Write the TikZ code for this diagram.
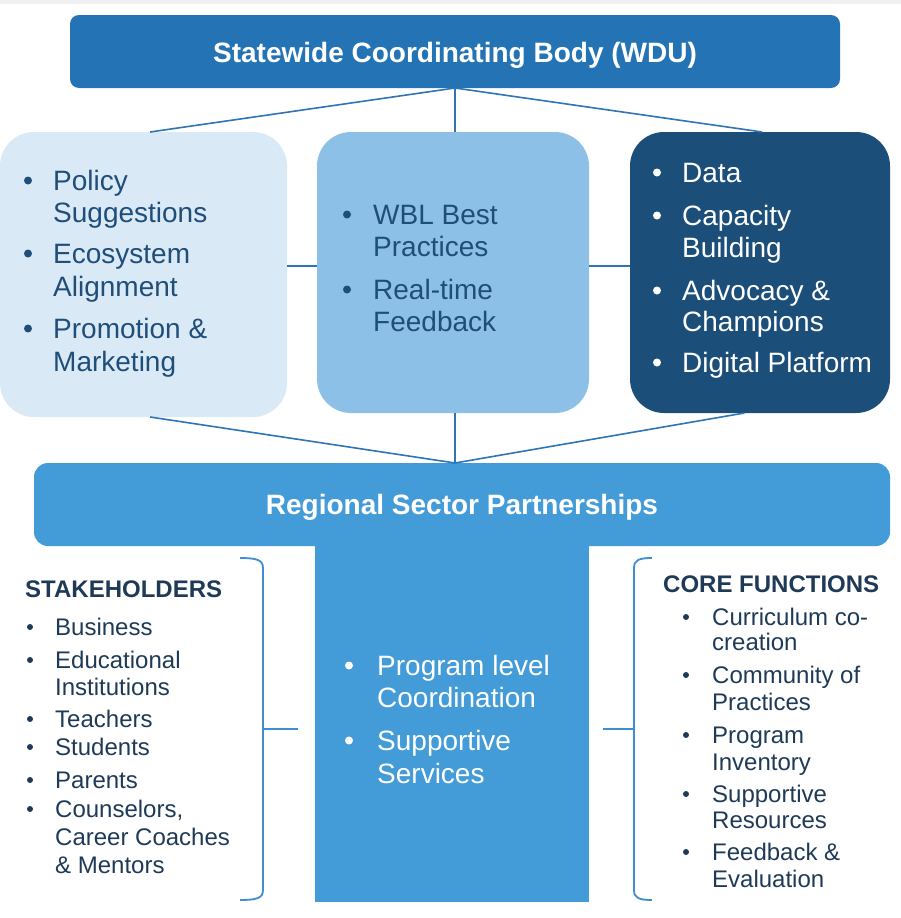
\documentclass[tikz,border=0pt]{standalone}
\usepackage{fontspec}
\setmainfont{Liberation Sans}
\usetikzlibrary{calc}
\definecolor{topblue}{HTML}{2474B5}
\definecolor{lightbox}{HTML}{DAE9F6}
\definecolor{midbox}{HTML}{8DC0E6}
\definecolor{darkbox}{HTML}{1C4E7A}
\definecolor{regblue}{HTML}{439BD7}
\definecolor{txtdark}{HTML}{1F4E79}
\definecolor{txtnavy}{HTML}{1F3A57}
\definecolor{linkblue}{HTML}{2E75B6}
\definecolor{bracketblue}{HTML}{3E8ED0}
\begin{document}
\begin{tikzpicture}[x=1pt,y=-1pt,
  box/.style={rectangle, inner sep=0pt, outer sep=0pt, draw=none},
  bigtxt/.style={font=\fontsize{28}{33}\selectfont, inner sep=0pt, anchor=base west},
  smalltxt/.style={font=\fontsize{24}{28}\selectfont, inner sep=0pt, anchor=base west},
  headtxt/.style={font=\bfseries\fontsize{24}{28}\selectfont, inner sep=0pt, anchor=base west, text=txtnavy},
  titletxt/.style={font=\bfseries\fontsize{28}{33}\selectfont, inner sep=0pt, anchor=base, text=white},
  bigdot/.style={circle, fill, inner sep=0pt, minimum size=8pt},
  smalldot/.style={circle, fill, inner sep=0pt, minimum size=6pt},
  link/.style={draw=linkblue, line width=1.6pt},
  brace/.style={draw=bracketblue, line width=1.8pt}
]
\useasboundingbox (0,0) rectangle (901,918);
\fill[gray!12] (0,0) rectangle (901,4);

% top box
\node[box, fill=topblue, rounded corners=9pt, minimum width=770pt, minimum height=73pt] (wdu) at (455,51.5) {};
\node[titletxt] (wdut) at (455,62) {Statewide Coordinating Body (WDU)};

% three middle boxes
\node[box, fill=lightbox, rounded corners=34pt, minimum width=287pt, minimum height=285pt] (lb) at (143.5,274.5) {};
\node[box, fill=midbox, rounded corners=34pt, minimum width=272pt, minimum height=281pt] (cb) at (453,272.5) {};
\node[box, fill=darkbox, rounded corners=34pt, minimum width=260pt, minimum height=281pt] (rb) at (760,272.5) {};

% regional box and stem
\node[box, fill=regblue, minimum width=274pt, minimum height=366pt] (stem) at (452,719) {};
\node[box, fill=regblue, rounded corners=14pt, minimum width=856pt, minimum height=83pt] (rg) at (462,504.5) {};
\node[titletxt] (rgt) at (462,514) {Regional Sector Partnerships};

% left box list
\foreach \yy/\txt [count=\i] in {190/Policy,222/Suggestions,263/Ecosystem,296/Alignment,338/Promotion \&,371/Marketing}
  \node[bigtxt, text=txtdark] (pl\i) at (53,\yy) {\txt};
\foreach \yy [count=\i] in {190,263,338}
  \node[bigdot, fill=txtdark] (pd\i) at (28,\yy-9.5) {};

% center box list
\foreach \yy/\txt [count=\i] in {224/WBL Best,256/Practices,299/Real-time,331/Feedback}
  \node[bigtxt, text=txtdark] (cl\i) at (373,\yy) {\txt};
\foreach \yy [count=\i] in {224,299}
  \node[bigdot, fill=txtdark] (cd\i) at (347,\yy-9.5) {};

% right box list
\foreach \yy/\txt [count=\i] in {182/Data,225/Capacity,257/Building,300/Advocacy \&,331/Champions,372/Digital Platform}
  \node[bigtxt, text=white] (rl\i) at (682,\yy) {\txt};
\foreach \yy [count=\i] in {182,225,300,372}
  \node[bigdot, fill=white] (rd\i) at (657,\yy-9.5) {};

% stem list
\foreach \yy/\txt [count=\i] in {675/Program level,707/Coordination,750/Supportive,783/Services}
  \node[bigtxt, text=white] (sl\i) at (377,\yy) {\txt};
\foreach \yy [count=\i] in {675,750}
  \node[bigdot, fill=white] (sd\i) at (349,\yy-9.5) {};

% stakeholders
\node[headtxt] (skh) at (25,597) {STAKEHOLDERS};
\foreach \yy/\txt [count=\i] in {635/Business,668/Educational,695/Institutions,727/Teachers,755/Students,788/Parents,817/{Counselors,},845/Career Coaches,873/\& Mentors}
  \node[smalltxt, text=txtnavy] (kl\i) at (55,\yy) {\txt};
\foreach \yy [count=\i] in {635,668,727,755,788,817}
  \node[smalldot, fill=txtnavy] (kd\i) at (30,\yy-8) {};

% core functions
\node[headtxt] (cfh) at (663,592) {CORE FUNCTIONS};
\foreach \yy/\txt [count=\i] in {625/Curriculum co-,650/creation,683/Community of,710/Practices,743/Program,770/Inventory,802/Supportive,828/Resources,860/Feedback \&,887/Evaluation}
  \node[smalltxt, text=txtnavy] (fl\i) at (712,\yy) {\txt};
\foreach \yy [count=\i] in {625,683,743,802,860}
  \node[smalldot, fill=txtnavy] (fd\i) at (686,\yy-8) {};

% connectors
\coordinate (hub) at (wdu.south |- rg.north);
\coordinate (hy) at (0,266);
\draw[link] (wdu.south) -- ($(lb.north west)!0.523!(lb.north east)$);
\draw[link] (wdu.south) -- (wdu.south |- cb.north);
\draw[link] (wdu.south) -- ($(rb.north west)!0.508!(rb.north east)$);
\draw[link] ($(lb.south west)!0.523!(lb.south east)$) -- (hub);
\draw[link] (wdu.south |- cb.south) -- (hub);
\draw[link] ($(rb.south west)!0.44!(rb.south east)$) -- (hub);
\draw[link] (lb.east |- hy) -- (cb.west |- hy);
\draw[link] (cb.east |- hy) -- (rb.west |- hy);

% brackets
\draw[brace] (240,558) .. controls (257,558) and (263,560) .. (263,568) -- (263,890) .. controls (263,898) and (257,900) .. (240,900);
\draw[brace] (263,729) -- (298,729);
\draw[brace] (652,558) .. controls (639,558) and (634,560) .. (634,568) -- (634,890) .. controls (634,898) and (639,900) .. (652,900);
\draw[brace] (603,729) -- (634,729);
\end{tikzpicture}
\end{document}
